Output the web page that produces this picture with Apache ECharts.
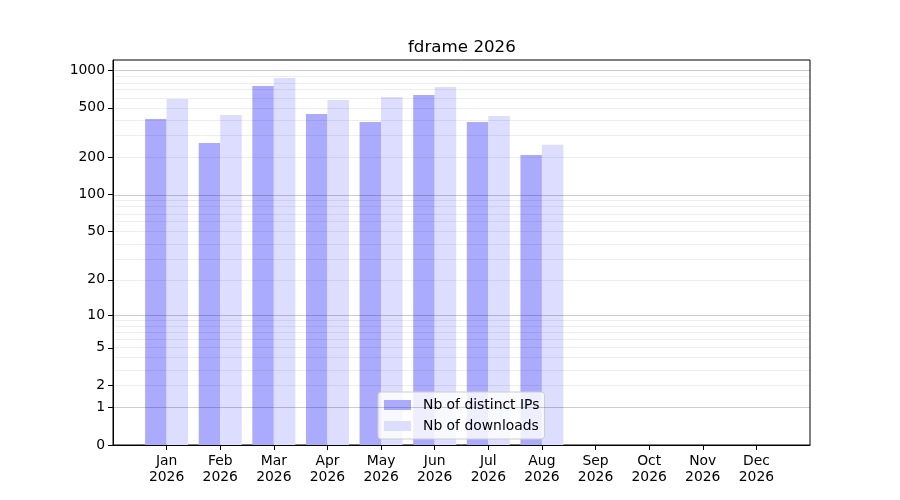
<!DOCTYPE html>
<html>
<head>
<meta charset="utf-8">
<script src="https://cdn.jsdelivr.net/npm/echarts@6/dist/echarts.min.js"></script>
<style>
  html, body { margin: 0; padding: 0; background: #fff; }
  #chart { width: 900px; height: 500px; }
</style>
</head>
<body>
<div id="chart"></div>
<script>
// data
const months = ['Jan', 'Feb', 'Mar', 'Apr', 'May', 'Jun', 'Jul', 'Aug', 'Sep', 'Oct', 'Nov', 'Dec']
const year = '2026'
const distinctIps = [407, 261, 748, 446, 385, 634, 385, 209]
const downloads = [588, 438, 867, 578, 611, 734, 430, 252]
const yTicks = [0, 1, 2, 5, 10, 20, 50, 100, 200, 500, 1000]
const majorGrid = [1, 10, 100, 1000]
const minorGrid = [2, 3, 4, 5, 6, 7, 8, 9, 20, 30, 40, 50, 60, 70, 80, 90, 200, 300, 400, 500, 600, 700, 800, 900]
const yMax = 1208

// y scale is log10(1 + v)
function tr(v) { return Math.log10(1 + v) }

const chart = echarts.init(document.getElementById('chart'))
const font = 'DejaVu Sans'
const monthIdx = months.map((m, i) => i)

const option = {
  animation: false,
  textStyle: { fontFamily: font },
  title: {
    text: 'fdrame 2026',
    left: 403,
    top: 34,
    textStyle: { fontFamily: font, fontSize: 16.7, fontWeight: 'normal', color: '#000' }
  },
  legend: {
    orient: 'vertical',
    left: 378,
    top: 392,
    padding: [6, 5, 6, 6],
    itemGap: 7,
    itemWidth: 27,
    itemHeight: 10,
    icon: 'rect',
    backgroundColor: 'rgba(255,255,255,0.8)',
    borderColor: '#cccccc',
    borderWidth: 1,
    borderRadius: 3,
    textStyle: { fontFamily: font, fontSize: 13.9, color: '#000', padding: [0, 0, 0, 7] },
    data: ['Nb of distinct IPs', 'Nb of downloads']
  },
  grid: {
    left: 113, right: 90, top: 60, bottom: 55,
    show: true, borderColor: '#000', borderWidth: 1, backgroundColor: 'transparent'
  },
  xAxis: {
    type: 'value',
    min: -1,
    max: 12,
    interval: 1,
    splitLine: { show: false },
    axisLine: { show: true, onZero: false, lineStyle: { color: '#000', width: 1 } },
    axisTick: { show: true, customValues: monthIdx, length: 5, lineStyle: { color: '#000' } },
    axisLabel: {
      customValues: monthIdx,
      margin: 8,
      fontFamily: font, fontSize: 13.9, color: '#000', lineHeight: 16,
      formatter: v => months[v] + '\n' + year
    }
  },
  yAxis: {
    type: 'value',
    min: 0,
    max: tr(yMax),
    splitLine: { show: false },
    axisLine: { show: true, onZero: false, lineStyle: { color: '#000', width: 1 } },
    axisTick: { show: true, customValues: yTicks.map(tr), length: 5, lineStyle: { color: '#000' } },
    axisLabel: {
      customValues: yTicks.map(tr),
      margin: 8,
      padding: [2, 0, 0, 0],
      fontFamily: font, fontSize: 13.9, color: '#000',
      formatter: v => String(Math.round(Math.pow(10, v) - 1))
    }
  },
  series: [{
    name: 'Nb of distinct IPs',
    type: 'bar',
    barWidth: 21.5,
    barGap: '0%',
    itemStyle: { color: '#aaaaff' },
    data: distinctIps.map((v, i) => [i, tr(v)])
  }, {
    name: 'Nb of downloads',
    type: 'bar',
    barWidth: 21.5,
    barGap: '0%',
    itemStyle: { color: '#ddddff' },
    data: downloads.map((v, i) => [i, tr(v)])
  }, {
    name: 'grid',
    type: 'line',
    data: [],
    silent: true,
    z: 5,
    markLine: {
      silent: true,
      symbol: 'none',
      label: { show: false },
      animation: false,
      data: minorGrid.map(v => ({ yAxis: tr(v), lineStyle: { color: 'rgba(0,0,0,0.07)', width: 1, type: 'solid' } }))
        .concat(majorGrid.map(v => ({ yAxis: tr(v), lineStyle: { color: 'rgba(0,0,0,0.2)', width: 1, type: 'solid' } })))
    }
  }]
}

chart.setOption(option)
</script>
</body>
</html>
